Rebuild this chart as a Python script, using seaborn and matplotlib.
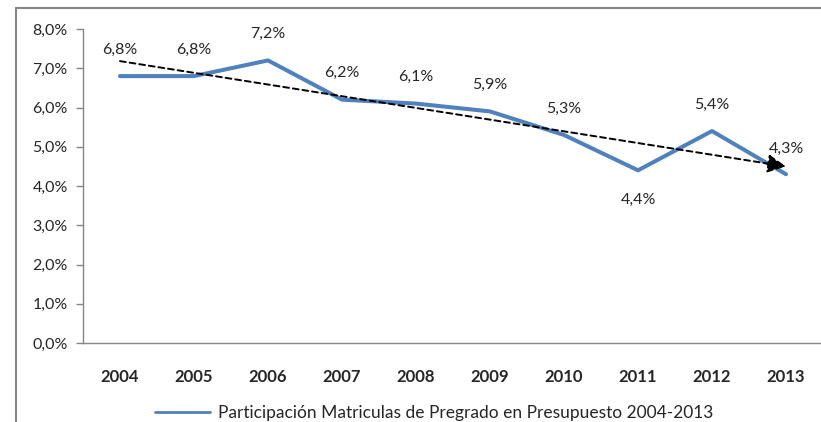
import numpy as np
import pandas as pd
import matplotlib
matplotlib.use("Agg")
import matplotlib.pyplot as plt
from matplotlib.lines import Line2D
from matplotlib.ticker import FuncFormatter
import seaborn as sns

sns.set_style("white")
plt.rcParams['font.family'] = ['Lato', 'DejaVu Sans']

years = ['2004', '2005', '2006', '2007', '2008', '2009', '2010', '2011', '2012', '2013']
participacion = [6.8, 6.8, 7.2, 6.2, 6.1, 5.9, 5.3, 4.4, 5.4, 4.3]
serie = 'Participación Matriculas de Pregrado en Presupuesto 2004-2013'

df = pd.DataFrame({'x': np.arange(len(years)), 'valor': participacion})

fig = plt.figure(figsize=(8.21, 4.22), dpi=100)
ax = fig.add_axes([83 / 821, 1 - 343 / 422, 740 / 821, 314 / 422])

sns.lineplot(data=df, x='x', y='valor', ax=ax, color='#4F81BD', linewidth=2.9,
             label=serie)

# linear trend (dashed, with arrow at the end)
pend, corte = np.polyfit(df['x'], df['valor'], 1)
x0, x1 = df['x'].iloc[0], df['x'].iloc[-1]
y0, y1 = corte + pend * x0, corte + pend * x1
ax.annotate('', xy=(x1, y1), xytext=(x0, y0),
            arrowprops=dict(arrowstyle='-|>,head_length=0.8,head_width=0.4',
                            color='black', lw=1.4, linestyle=(0, (3, 2)),
                            mutation_scale=14, shrinkA=0, shrinkB=0))

# data labels
for i, v in enumerate(participacion):
    txt = f'{v:.1f}%'.replace('.', ',')
    if years[i] == '2011':
        off = (0, -21)
    elif years[i] == '2013':
        off = (0, 18)
    else:
        off = (0, 19)
    ax.annotate(txt, (i, v), xytext=off, textcoords='offset points',
                ha='center', va='center', fontsize=11.5)

ax.set_xlim(-0.5, len(years) - 0.5)
ax.set_ylim(0, 8)
ax.set_yticks(np.arange(0, 9, 1))
ax.yaxis.set_major_formatter(FuncFormatter(lambda v, p: f'{v:.1f}%'.replace('.', ',')))
ax.set_xticks(np.arange(len(years)))
ax.set_xticklabels(years, fontweight='bold')
ax.set_xticks(np.arange(-0.5, len(years), 1), minor=True)
ax.tick_params(axis='x', which='major', length=0, pad=19, labelsize=12)
ax.tick_params(axis='x', which='minor', length=5, color='#868686', width=1)
ax.tick_params(axis='y', length=5, color='#868686', width=1, labelsize=11.5, pad=6,
               left=True)
ax.set_xlabel('')
ax.set_ylabel('')

for s in ['top', 'right']:
    ax.spines[s].set_visible(False)
for s in ['left', 'bottom']:
    ax.spines[s].set_color('#868686')
    ax.spines[s].set_linewidth(1)

leg = ax.legend(loc='center', bbox_to_anchor=(434 / 821, 1 - 413 / 422),
                bbox_transform=fig.transFigure, frameon=False, fontsize=12.5,
                handlelength=3.2, handletextpad=0.45)
for h in leg.get_lines():
    h.set_linewidth(2)

# outer chart border (left and top edges visible)
fig.add_artist(Line2D([16 / 821, 16 / 821], [0, 1 - 8 / 422], color='#868686', lw=1.5,
                      transform=fig.transFigure))
fig.add_artist(Line2D([16 / 821, 1], [1 - 8 / 422, 1 - 8 / 422], color='#868686', lw=1.5,
                      transform=fig.transFigure))

fig.savefig('out.png', dpi=100)
